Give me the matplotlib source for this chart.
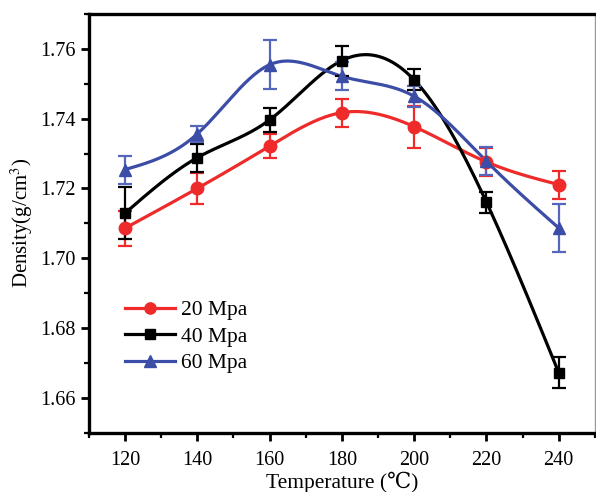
import numpy as np
import matplotlib
matplotlib.use("Agg")
import matplotlib.pyplot as plt
from matplotlib.ticker import MultipleLocator

plt.rcParams['font.family'] = ['Liberation Serif', 'DejaVu Serif']
plt.rcParams['mathtext.fontset'] = 'stix'

# data
temps = [120, 140, 160, 180, 200, 220, 240]
d20 = [1.7086, 1.7200, 1.7321, 1.7417, 1.7377, 1.7276, 1.7211]
e20 = [0.0050, 0.0045, 0.0035, 0.0040, 0.0060, 0.0040, 0.0040]
d40 = [1.7129, 1.7288, 1.7396, 1.7566, 1.7511, 1.7161, 1.6673]
e40 = [0.0075, 0.0040, 0.0035, 0.0043, 0.0030, 0.0030, 0.0044]
d60 = [1.7254, 1.7356, 1.7554, 1.7521, 1.7464, 1.7278, 1.7087]
e60 = [0.0040, 0.0022, 0.0070, 0.0040, 0.0030, 0.0040, 0.0068]
labels = ['20 Mpa', '40 Mpa', '60 Mpa']


def spline(x, y, n=300):
    # natural cubic spline through the points (like Origin's spline connect)
    x = np.asarray(x, float); y = np.asarray(y, float)
    m = len(x); h = np.diff(x)
    A = np.zeros((m, m)); b = np.zeros(m)
    A[0, 0] = A[-1, -1] = 1
    for i in range(1, m - 1):
        A[i, i - 1] = h[i - 1]; A[i, i] = 2 * (h[i - 1] + h[i]); A[i, i + 1] = h[i]
        b[i] = 3 * ((y[i + 1] - y[i]) / h[i] - (y[i] - y[i - 1]) / h[i - 1])
    c = np.linalg.solve(A, b)
    xs = np.linspace(x[0], x[-1], n)
    k = np.clip(np.searchsorted(x, xs) - 1, 0, m - 2)
    dx = xs - x[k]
    bb = (y[k + 1] - y[k]) / h[k] - h[k] * (2 * c[k] + c[k + 1]) / 3
    dd = (c[k + 1] - c[k]) / (3 * h[k])
    return xs, y[k] + bb * dx + c[k] * dx ** 2 + dd * dx ** 3


fig = plt.figure(figsize=(5.96, 4.92), dpi=100)
ax = fig.add_axes([0.149, 0.12, 0.849, 0.852])

styles = [('#ee2a2a', '#ee2a2a', 'o', 9), ('black', 'black', 's', 7.5), ('#3b4da6', '#5566bb', '^', 9)]
for d, e, lab, (col, ecol, mk, ms) in zip([d20, d40, d60], [e20, e40, e60], labels, styles):
    xs, ys = spline(temps, d)
    ax.plot(xs, ys, color=col, lw=2.3, zorder=2)
    ax.errorbar(temps, d, yerr=e, fmt='none', ecolor=ecol, elinewidth=1.6, capsize=5, capthick=1.6, zorder=3)
    ax.plot(temps, d, ls='none', marker=mk, ms=ms, color=col, zorder=4)
    ax.plot([], [], color=col, lw=2.3, marker=mk, ms=ms * 0.9, label=lab)

ax.set_xlim(110, 250)
ax.set_ylim(1.65, 1.77)
ax.xaxis.set_major_locator(MultipleLocator(20))
ax.xaxis.set_minor_locator(MultipleLocator(10))
ax.yaxis.set_major_locator(MultipleLocator(0.02))
ax.yaxis.set_minor_locator(MultipleLocator(0.01))
ax.yaxis.set_major_formatter(matplotlib.ticker.FormatStrFormatter('%.2f'))
ax.tick_params(which='major', direction='out', length=6, width=2, labelsize=14.5)
ax.tick_params(axis='x', which='major', pad=7)
ax.tick_params(which='minor', direction='out', length=3.5, width=1.6)
for s in ['left', 'bottom', 'top']:
    ax.spines[s].set_linewidth(2.4)
ax.spines['right'].set_linewidth(1)
ax.spines['right'].set_color('#999999')

ax.set_xlabel('Temperature (\u2103)', fontsize=15.5, labelpad=1)
ax.set_ylabel('Density(g/cm$^3$)', fontsize=15, labelpad=4)

ax.legend(loc='upper left', bbox_to_anchor=(0.051, 0.342), frameon=False, fontsize=15.5,
          handlelength=2.3, handletextpad=0.3, labelspacing=0.3, borderpad=0)

fig.savefig('out.png', dpi=100)
